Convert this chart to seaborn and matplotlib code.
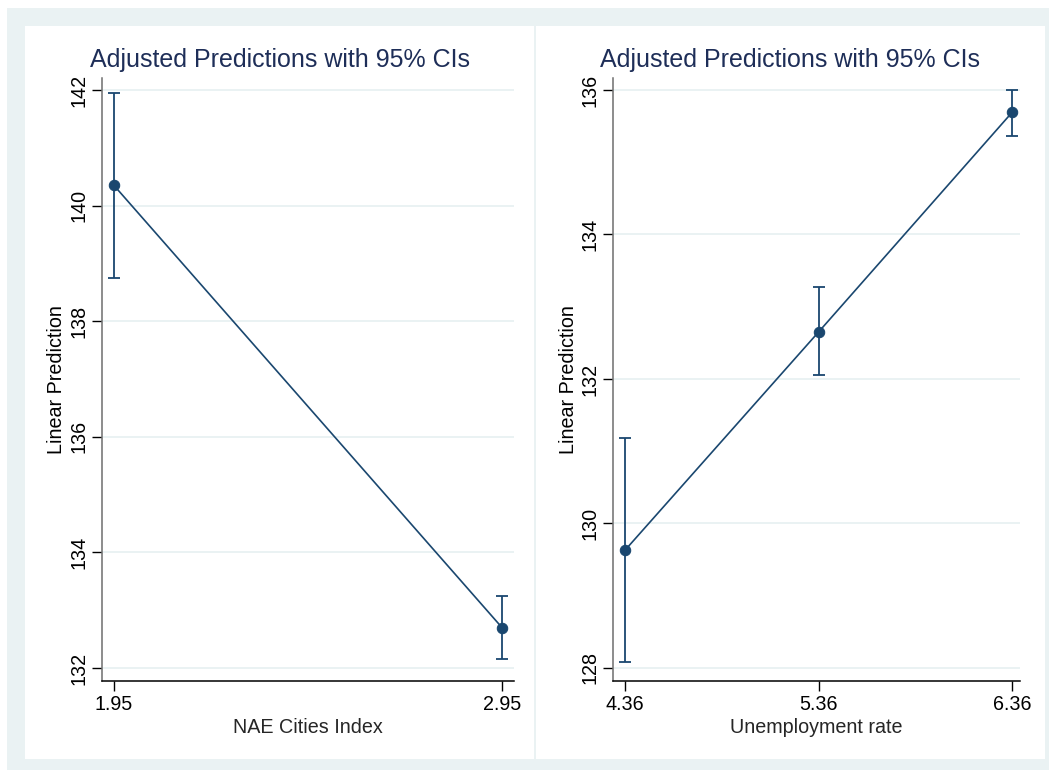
import matplotlib
matplotlib.use("Agg")
import matplotlib.pyplot as plt
from matplotlib.patches import Rectangle
import pandas as pd
import seaborn as sns

# Margins-style predictions: NAE Cities Index
nae_x = [1.95, 2.95]
nae_pred = [140.35, 132.70]
nae_lo = [138.75, 132.15]
nae_hi = [141.95, 133.25]

# Margins-style predictions: unemployment rate
unemp_x = [4.36, 5.36, 6.36]
unemp_pred = [129.63, 132.65, 135.69]
unemp_lo = [128.08, 132.05, 135.37]
unemp_hi = [131.18, 133.27, 136.00]

nae_ticks_y = [132, 134, 136, 138, 140, 142]
unemp_ticks_y = [128, 130, 132, 134, 136]

TITLE = "Adjusted Predictions with 95% CIs"
YLABEL = "Linear Prediction"

NAVY = "#1a476f"
TITLE_C = "#1e2e58"
BG = "#eaf2f3"

sns.set_theme(style="white")
plt.rcParams["font.family"] = ["Liberation Sans", "DejaVu Sans"]

fig = plt.figure(figsize=(10.49, 7.70), dpi=100)
W, H = 1049, 770

def fx(px):
    return px / W

def fy(py):
    return 1 - py / H

# graph region backgrounds
fig.patches.append(Rectangle((fx(7), 0), 1 - fx(7), fy(8), transform=fig.transFigure,
                             facecolor=BG, edgecolor="none", zorder=-3))
fig.patches.append(Rectangle((fx(25), fy(759)), fx(1045) - fx(25), fy(26) - fy(759),
                             transform=fig.transFigure, facecolor="white",
                             edgecolor="none", zorder=-2))
fig.patches.append(Rectangle((fx(534), fy(759)), fx(2), fy(26) - fy(759),
                             transform=fig.transFigure, facecolor=BG,
                             edgecolor="none", zorder=-1))

FS = 14.2


def panel(left_px, right_px, xs, pred, lo, hi, yticks, ylim, xlim, xlabel,
          title_cx, ylabel_x):
    ax = fig.add_axes([fx(left_px), fy(681), fx(right_px) - fx(left_px), fy(78) - fy(681)])
    ax.set_facecolor("none")
    df = pd.DataFrame({"x": xs, "pred": pred})
    err_lo = [p - l for p, l in zip(pred, lo)]
    err_hi = [h - p for p, h in zip(pred, hi)]
    ax.errorbar(xs, pred, yerr=[err_lo, err_hi], fmt="none", ecolor=NAVY,
                elinewidth=1.3, capsize=4.0, capthick=1.3, zorder=3)
    sns.lineplot(data=df, x="x", y="pred", ax=ax, color=NAVY, linewidth=1.2,
                 marker="o", markersize=7.5, markeredgecolor=NAVY,
                 markerfacecolor=NAVY, zorder=4)
    ax.set_xlim(*xlim)
    ax.set_ylim(*ylim)
    ax.set_xticks(xs)
    ax.set_xticklabels([f"{v:.2f}" for v in xs], fontsize=FS)
    ax.set_yticks(yticks)
    ax.set_yticklabels([str(v) for v in yticks], fontsize=FS, rotation=90,
                       va="center")
    for t in yticks:
        ax.axhline(t, color=BG, linewidth=1.4, zorder=1)
    ax.set_xlabel(xlabel, fontsize=FS, labelpad=3)
    ax.set_ylabel("")
    for s in ["top", "right"]:
        ax.spines[s].set_visible(False)
    ax.spines["left"].set_color("#6e6e6e")
    ax.spines["bottom"].set_color("black")
    ax.spines["left"].set_linewidth(1.1)
    ax.spines["bottom"].set_linewidth(1.1)
    ax.tick_params(axis="both", which="major", length=7, width=1.0,
                   color="black", labelcolor="black", left=True, bottom=True,
                   pad=3)
    fig.text(fx(title_cx), fy(60), TITLE, ha="center", va="center",
             fontsize=18, color=TITLE_C)
    fig.text(fx(ylabel_x), fy(380), YLABEL, ha="center", va="center",
             rotation=90, fontsize=FS, color="black")
    return ax


panel(102, 514, nae_x, nae_pred, nae_lo, nae_hi, nae_ticks_y,
      (131.775, 142.21), (1.919, 2.981), "NAE Cities Index", 280, 57)
panel(613, 1020, unemp_x, unemp_pred, unemp_lo, unemp_hi, unemp_ticks_y,
      (127.82, 136.166), (4.298, 6.401), "Unemployment rate", 790, 568)

fig.savefig("out.png", dpi=100)
